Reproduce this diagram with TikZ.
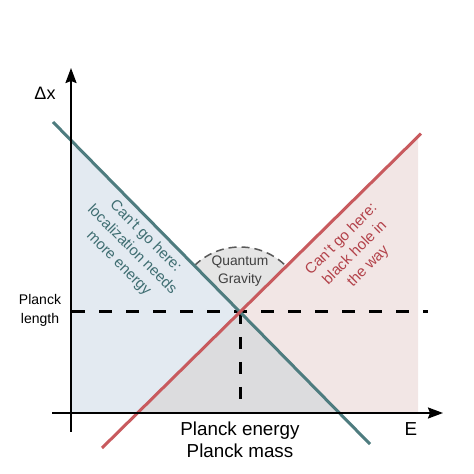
\documentclass[tikz,border=0pt]{standalone}
\usepackage{fontspec}
\setmainfont{Liberation Sans}
\usetikzlibrary{arrows.meta}
\definecolor{tealline}{HTML}{4E7C7F}
\definecolor{tealtext}{HTML}{3F6E72}
\definecolor{redline}{HTML}{C85A5E}
\definecolor{redtext}{HTML}{B3424A}
\definecolor{bluefill}{HTML}{E3EAF1}
\definecolor{pinkfill}{HTML}{F2E6E5}
\definecolor{grayfill}{HTML}{DCDCDE}
\definecolor{qgfill}{HTML}{E5E5E5}
\tikzset{
  axisline/.style={line width=2pt,black},
  boundline/.style={line width=3pt},
  planckdash/.style={line width=3pt,black,dash pattern=on 13pt off 14pt},
  lbl/.style={inner sep=0pt,align=center},
}
\begin{document}
\begin{tikzpicture}[x=1pt,y=1pt]
\useasboundingbox (0,0) rectangle (474,474);
% key points
\coordinate (P) at (240,162);
\coordinate (TA) at (53,352);
\coordinate (TB) at (370,29.9);
\coordinate (RC) at (102,26);
\coordinate (RD) at (421,340.4);
\coordinate (TY) at (71,333.7);
\coordinate (RX) at (137.5,61);
\coordinate (TX) at (339.4,61);
\coordinate (PK) at (418,337.4);
\coordinate (PKB) at (418,61);
\coordinate (O) at (71,61);
\coordinate (Ybot) at (71,42);
\coordinate (Ytop) at (71,406);
\coordinate (Xl) at (52,61);
\coordinate (Xr) at (443,61);
\coordinate (Hl) at (72,162);
\coordinate (Hr) at (428,162);
\coordinate (Vb) at (240,61);
% fills
\fill[bluefill] (TY) -- (P) -- (RX) -- (O) -- cycle;
\fill[grayfill] (RX) -- (P) -- (TX) -- cycle;
\fill[pinkfill] (P) -- (PK) -- (PKB) -- (TX) -- cycle;
% quantum gravity sector
\fill[qgfill] (P) -- ++(134.5:65) arc[start angle=134.5,end angle=44.6,radius=65] -- cycle;
\draw[line width=1.5pt,black!65,dash pattern=on 8pt off 5pt] (P) ++(134.5:65) arc[start angle=134.5,end angle=44.6,radius=65];
% dashed planck lines
\draw[planckdash] (Hl) -- (Hr);
\draw[planckdash,dash pattern=on 12pt off 13pt] (P) -- (Vb);
% bound lines
\draw[boundline,tealline] (TA) -- (TB);
\draw[boundline,redline] (RC) -- (RD);
% axes
\draw[axisline,-{Stealth[length=15pt,width=11pt,inset=2pt]}] (Ybot) -- (Ytop);
\draw[axisline,-{Stealth[length=15pt,width=11pt,inset=2pt]}] (Xl) -- (Xr);
% labels
\node[lbl,font=\fontsize{18}{22}\selectfont] (dx) at (45,381) {Δx};
\node[lbl,font=\fontsize{18.8}{22}\selectfont] (E) at (411,45) {E};
\node[lbl,font=\fontsize{18.8}{22}\selectfont] (pe) at (240,34) {Planck energy\\Planck mass};
\node[lbl,font=\fontsize{14}{19}\selectfont] (pl) at (40,164) {Planck\\length};
\node[lbl,font=\fontsize{13.8}{18}\selectfont,black!75] (qg) at (240,203) {Quantum\\Gravity};
\node[lbl,font=\fontsize{15}{19}\selectfont,tealtext,rotate=-45] (lt) at (132,224) {Can't go here:\\localization needs\\more energy};
\node[lbl,font=\fontsize{15}{19}\selectfont,redtext,rotate=45] (rt) at (355,221) {Can't go here:\\black hole in\\the way};
\end{tikzpicture}
\end{document}
